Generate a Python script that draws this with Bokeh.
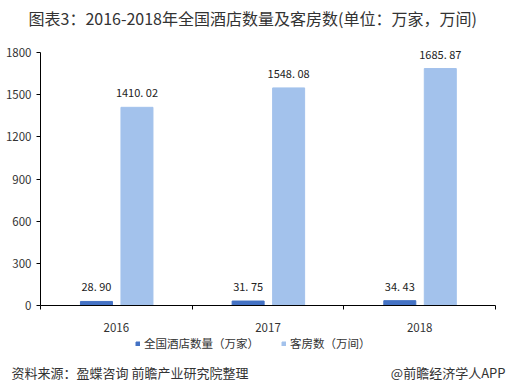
from bokeh.plotting import figure
from bokeh.models import ColumnDataSource, FixedTicker, Legend, LegendItem
from bokeh.core.properties import value
from bokeh.embed import file_html
from bokeh.resources import INLINE

years = ["2016", "2017", "2018"]
hotels = [28.90, 31.75, 34.43]
rooms = [1410.02, 1548.08, 1685.87]
yticks = [0, 300, 600, 900, 1200, 1500, 1800]
title_text = "图表3：2016-2018年全国酒店数量及客房数(单位：万家，万间)"
series_names = ["全国酒店数量（万家）", "客房数（万间）"]
source_text = "资料来源：盈蝶咨询 前瞻产业研究院整理"
brand_text = "@前瞻经济学人APP"

FONT = "Noto Sans CJK SC"
DARK = "#4472C4"
LIGHT = "#A3C2EC"
TXT = "#333333"

W, H = 520, 387
# pixel layout of the plotting area
PX_L, PX_R = 40.0, 495.0     # x of category 0 and 3
PX_Y0, PX_Y1 = 305.0, 52.0   # y of value 0 and 1800
NCAT = len(years)
YMAX = yticks[-1]
sx = (PX_R - PX_L) / NCAT
sy = (PX_Y0 - PX_Y1) / YMAX

def dx(px):
    return (px - PX_L) / sx

def dy(py):
    return (PX_Y0 - py) / sy

xc = [i + 0.5 for i in range(NCAT)]
src = ColumnDataSource(dict(
    xh=[x - 0.131 for x in xc],
    xr=[x + 0.136 for x in xc],
    hotels=hotels,
    rooms=rooms,
    hl=[("%.2f" % v).replace(".", ". ") for v in hotels],
    rl=[("%.2f" % v).replace(".", ". ") for v in rooms],
))

p = figure(width=W, height=H, x_range=(dx(0), dx(W)), y_range=(dy(H), dy(0)),
           output_backend="svg", toolbar_location=None,
           min_border=0, min_border_left=0, min_border_right=0,
           min_border_top=0, min_border_bottom=0)
p.outline_line_color = None
p.grid.grid_line_color = None
p.background_fill_color = "white"
p.border_fill_color = "white"

r1 = p.vbar(x="xh", top="hotels", width=0.211, source=src, color=DARK)
r2 = p.vbar(x="xr", top="rooms", width=0.211, source=src, color=LIGHT)

p.text(x="xh", y="hotels", text="hl", source=src, text_align="center", text_baseline="bottom",
       y_offset=-7, text_font=value(FONT), text_font_size="11px", text_color="#222222")
p.text(x="xr", y="rooms", text="rl", source=src, text_align="center", text_baseline="bottom",
       y_offset=-7, text_font=value(FONT), text_font_size="11px", text_color="#222222")

# y axis
p.yaxis.fixed_location = 0
p.yaxis.bounds = (0, YMAX)
p.yaxis.ticker = FixedTicker(ticks=yticks)
p.yaxis.axis_line_color = "black"
p.yaxis.major_tick_line_color = "black"
p.yaxis.major_tick_in = 0
p.yaxis.major_tick_out = 4
p.yaxis.major_label_standoff = 5
p.yaxis.minor_tick_line_color = None
p.yaxis.major_label_text_font = FONT
p.yaxis.major_label_text_font_size = "11.5px"
p.yaxis.major_label_text_color = TXT

# x axis
p.xaxis.fixed_location = 0
p.xaxis.bounds = (0, NCAT)
p.xaxis.ticker = FixedTicker(ticks=xc, minor_ticks=list(range(NCAT + 1)))
p.xaxis.major_label_overrides = {x: y for x, y in zip(xc, years)}
p.xaxis.axis_line_color = "black"
p.xaxis.major_tick_line_color = None
p.xaxis.major_tick_in = 0
p.xaxis.major_tick_out = 0
p.xaxis.minor_tick_line_color = "black"
p.xaxis.minor_tick_in = 0
p.xaxis.minor_tick_out = 4
p.xaxis.major_label_standoff = 13
p.xaxis.major_label_text_font = FONT
p.xaxis.major_label_text_font_size = "11.5px"
p.xaxis.major_label_text_color = TXT

# title
p.text(x=[dx(28)], y=[dy(17)], text=[title_text], text_align="left", text_baseline="middle",
       text_font=value(FONT), text_font_size="16px", text_color=TXT)

# legend
legend = Legend(items=[LegendItem(label=series_names[0], renderers=[r1]),
                       LegendItem(label=series_names[1], renderers=[r2])],
                orientation="horizontal", location=(135, H - 353),
                label_text_font=FONT, label_text_font_size="11.5px", label_text_color=TXT,
                glyph_width=5, glyph_height=5, spacing=22, padding=0, margin=0,
                label_standoff=4, label_height=20, border_line_color=None,
                background_fill_alpha=0)
p.add_layout(legend, "center")

# source line
p.text(x=[dx(11)], y=[dy(372)], text=[source_text], text_align="left", text_baseline="middle",
       text_font=value(FONT), text_font_size="13px", text_color=TXT)
p.text(x=[dx(505)], y=[dy(372)], text=[brand_text], text_align="right", text_baseline="middle",
       text_font=value(FONT), text_font_size="13px", text_color=TXT)

open("out.html", "w").write(file_html(p, INLINE))
